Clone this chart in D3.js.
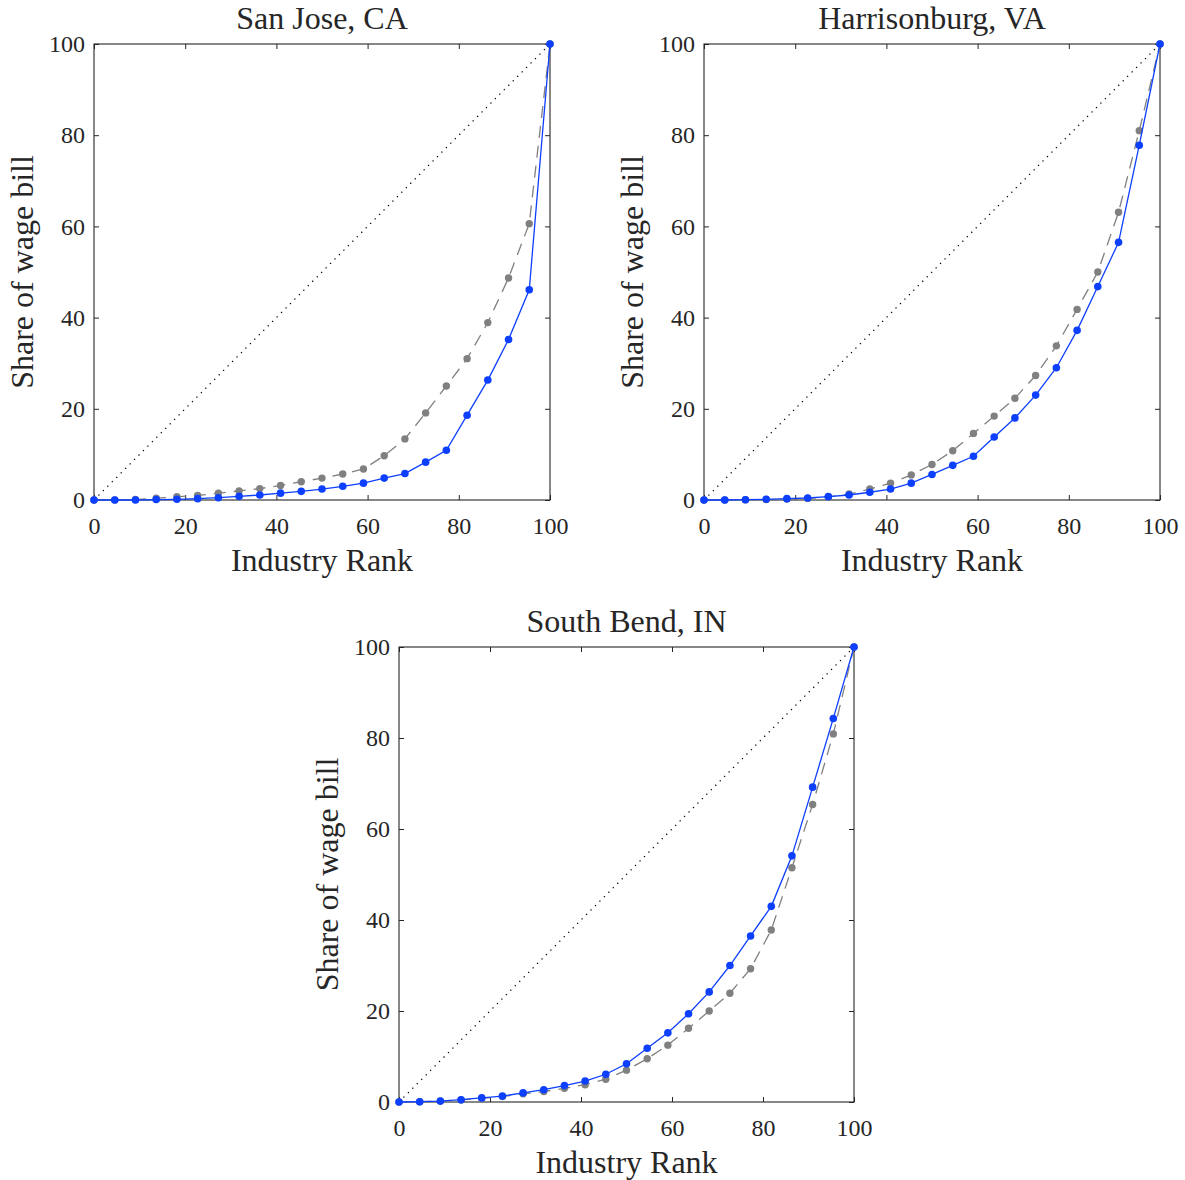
<!DOCTYPE html>
<html>
<head>
<meta charset="utf-8">
<script src="https://cdn.jsdelivr.net/npm/d3@7"></script>
<style>
  html, body { margin: 0; padding: 0; background: #fff; }
  svg { display: block; }
  text { font-family: "Liberation Serif", "Times New Roman", serif; fill: #262626; }
</style>
</head>
<body>
<svg id="chart" width="1185" height="1180"></svg>
<script>
// ---- data ----
const rank = [0, 4.55, 9.09, 13.64, 18.18, 22.73, 27.27, 31.82, 36.36, 40.91, 45.45, 50, 54.55, 59.09, 63.64, 68.18, 72.73, 77.27, 81.82, 86.36, 90.91, 95.45, 100];

const sanJoseBlue = [0, 0, 0, 0.1, 0.15, 0.3, 0.5, 0.8, 1.1, 1.5, 1.9, 2.4, 3.0, 3.7, 4.8, 5.8, 8.3, 10.9, 18.6, 26.3, 35.2, 46.1, 100];
const sanJoseGray = [0, 0.02, 0.1, 0.4, 0.7, 1.0, 1.5, 2.0, 2.5, 3.2, 4.0, 4.8, 5.7, 6.8, 9.7, 13.4, 19.1, 25.0, 31.0, 38.9, 48.7, 60.6, 100];

const harrisonburgBlue = [0, 0, 0.07, 0.15, 0.3, 0.44, 0.73, 1.1, 1.7, 2.4, 3.7, 5.6, 7.6, 9.6, 13.8, 18.0, 23.0, 29.0, 37.2, 46.8, 56.5, 77.8, 100];
const harrisonburgGray = [0, 0, 0.05, 0.1, 0.2, 0.35, 0.7, 1.3, 2.4, 3.7, 5.5, 7.8, 10.8, 14.6, 18.4, 22.3, 27.3, 33.8, 41.8, 50.0, 63.1, 81.0, 100];

const southBendBlue = [0, 0.07, 0.2, 0.5, 0.9, 1.3, 2.0, 2.7, 3.6, 4.6, 6.1, 8.4, 11.8, 15.2, 19.4, 24.2, 30.0, 36.5, 43.0, 54.1, 69.2, 84.3, 100];
const southBendGray = [0, 0.05, 0.2, 0.45, 0.8, 1.2, 1.8, 2.3, 3.0, 3.8, 5.0, 7.0, 9.5, 12.5, 16.2, 20.0, 23.9, 29.3, 37.8, 51.5, 65.4, 80.9, 100];

const equalityLine = [0, 100];
const tickValues = [0, 20, 40, 60, 80, 100];
const titles = ["San Jose, CA", "Harrisonburg, VA", "South Bend, IN"];
const xLabel = "Industry Rank";
const yLabel = "Share of wage bill";

// ---- layout ----
const panels = [
  { title: titles[0], left: 94,  top: 44,  size: 456, blue: sanJoseBlue, gray: sanJoseGray },
  { title: titles[1], left: 704, top: 44,  size: 456, blue: harrisonburgBlue, gray: harrisonburgGray },
  { title: titles[2], left: 399, top: 647, size: 455, blue: southBendBlue, gray: southBendGray }
];

const BLUE = "#0d3fff";
const GRAY = "#808080";
const AXIS = "#262626";

const svg = d3.select("#chart");

panels.forEach(p => {
  const g = svg.append("g").attr("transform", `translate(${p.left},${p.top})`);
  const x = d3.scaleLinear().domain([0, 100]).range([0, p.size]);
  const y = d3.scaleLinear().domain([0, 100]).range([p.size, 0]);

  const styleAxis = sel => {
    sel.select(".domain").remove();
    sel.selectAll(".tick line").attr("stroke", AXIS).attr("stroke-width", 1);
    sel.selectAll(".tick text").attr("fill", AXIS).style("font-size", "24px")
      .style("font-family", '"Liberation Serif", "Times New Roman", serif');
  };
  g.append("g").attr("transform", `translate(0,${p.size})`)
    .call(d3.axisBottom(x).tickValues(tickValues).tickSizeInner(-5).tickSizeOuter(0).tickFormat(d3.format("d")))
    .call(styleAxis)
    .call(s => s.selectAll(".tick text").attr("dy", "0.71em").attr("y", 17));
  g.append("g")
    .call(d3.axisLeft(y).tickValues(tickValues).tickSizeInner(-5).tickSizeOuter(0).tickFormat(d3.format("d")))
    .call(styleAxis)
    .call(s => s.selectAll(".tick text").attr("x", -9));
  g.append("g")
    .call(d3.axisTop(x).tickValues(tickValues).tickSizeInner(-5).tickSizeOuter(0).tickFormat(""))
    .call(styleAxis);
  g.append("g").attr("transform", `translate(${p.size},0)`)
    .call(d3.axisRight(y).tickValues(tickValues).tickSizeInner(-5).tickSizeOuter(0).tickFormat(""))
    .call(styleAxis);

  g.append("rect").attr("x", 0).attr("y", 0).attr("width", p.size).attr("height", p.size)
    .attr("fill", "none").attr("stroke", AXIS).attr("stroke-width", 1.1);

  g.append("line")
    .attr("x1", x(equalityLine[0])).attr("y1", y(equalityLine[0]))
    .attr("x2", x(equalityLine[1])).attr("y2", y(equalityLine[1]))
    .attr("stroke", "#000").attr("stroke-width", 1.2).attr("stroke-dasharray", "1.3,5");

  const line = d3.line().x(d => x(d[0])).y(d => y(d[1]));

  const grayData = rank.map((r, i) => [r, p.gray[i]]);
  g.append("path").datum(grayData).attr("d", line)
    .attr("fill", "none").attr("stroke", GRAY).attr("stroke-width", 1.3).attr("stroke-dasharray", "12,8");
  g.selectAll(".gdot").data(grayData).enter().append("circle")
    .attr("cx", d => x(d[0])).attr("cy", d => y(d[1])).attr("r", 3.7).attr("fill", GRAY);

  const blueData = rank.map((r, i) => [r, p.blue[i]]);
  g.append("path").datum(blueData).attr("d", line)
    .attr("fill", "none").attr("stroke", BLUE).attr("stroke-width", 1.3);
  g.selectAll(".bdot").data(blueData).enter().append("circle")
    .attr("cx", d => x(d[0])).attr("cy", d => y(d[1])).attr("r", 3.8).attr("fill", BLUE);

  g.append("text").attr("x", p.size / 2).attr("y", -15).attr("text-anchor", "middle")
    .style("font-size", "32px").attr("fill", "#000").text(p.title);
  g.append("text").attr("x", p.size / 2).attr("y", p.size + 71).attr("text-anchor", "middle")
    .style("font-size", "32px").text(xLabel);
  g.append("text").attr("transform", `translate(-61,${p.size / 2}) rotate(-90)`)
    .attr("text-anchor", "middle").style("font-size", "32px").text(yLabel);
});
</script>
</body>
</html>
